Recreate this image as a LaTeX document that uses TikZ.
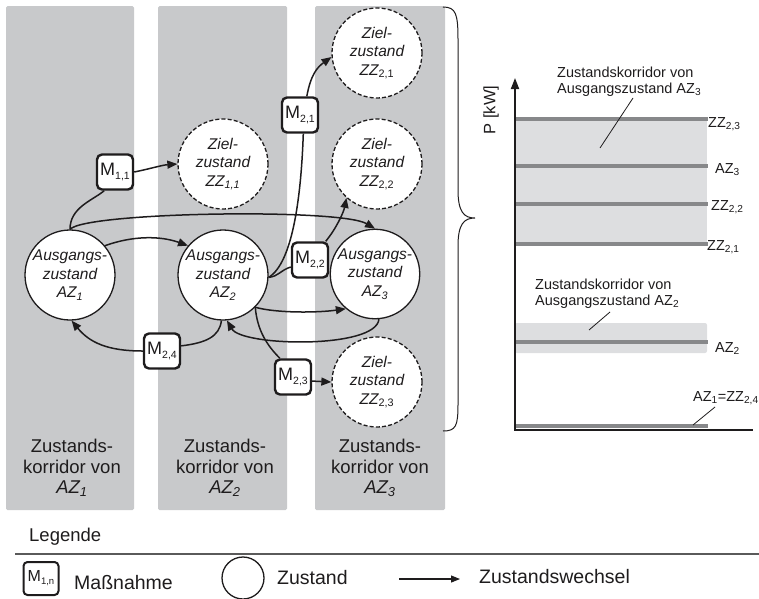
\documentclass[tikz,border=0pt]{standalone}
\usepackage{fontspec}
\setmainfont{Liberation Sans}
\usetikzlibrary{arrows.meta}
\definecolor{colgray}{RGB}{200,201,203}
\definecolor{corgray}{RGB}{221,222,224}
\definecolor{lvlgray}{RGB}{135,136,138}
\definecolor{leggray}{RGB}{90,90,90}
\definecolor{ink}{RGB}{30,28,29}
\newcommand\circfont{\fontsize{15.5}{18.5}\selectfont\itshape}
\newcommand\colfont{\fontsize{18.5}{20.5}\selectfont}
\newcommand\chfont{\fontsize{14.5}{16.5}\selectfont}
\newcommand\legfont{\fontsize{19.5}{22}\selectfont}
\newcommand\Mlab[1]{M\raisebox{-3.5pt}{\fontsize{10.5}{12}\selectfont #1}}
\begin{document}
\begin{tikzpicture}[x=1pt,y=-1pt, text=ink,
  colbox/.style={fill=colgray, draw=none, rounded corners=1.5pt},
  st/.style={circle, draw=ink, line width=1.3pt, fill=white, minimum size=90pt, inner sep=0pt, align=center, font=\circfont},
  zz/.style={st, dash pattern=on 4pt off 2.2pt},
  mm/.style={draw=ink, line width=2.4pt, rounded corners=5pt, fill=white, minimum width=36pt, minimum height=35pt, inner sep=0pt, font=\fontsize{18}{20}\selectfont},
  ln/.style={ink, line width=1.5pt},
  tr/.style={ink, line width=1.5pt, -{Triangle[length=10pt,width=8pt]}},
  lvl/.style={lvlgray, line width=3.2pt},
  chl/.style={anchor=base west, inner sep=0pt, font=\chfont},
  leg/.style={anchor=west, inner sep=0pt, font=\legfont}
]
\useasboundingbox (0,0) rectangle (759,598);

% corridors
\fill[colbox] (6,6) rectangle (134,510);
\fill[colbox] (158,6) rectangle (287,510);
\fill[colbox] (315,6) rectangle (445,510);

% state nodes
\node[st] (az1) at (70,275) {Ausgangs-\\zustand\\AZ\textsubscript{1}};
\node[st] (az2) at (223,275) {Ausgangs-\\zustand\\AZ\textsubscript{2}};
\node[st, minimum size=88pt] (az3) at (375,274) {Ausgangs-\\zustand\\AZ\textsubscript{3}};
\node[zz] (zz11) at (223,164) {Ziel-\\zustand\\ZZ\textsubscript{1,1}};
\node[zz] (zz21) at (377,53) {Ziel-\\zustand\\ZZ\textsubscript{\upshape 2,1}};
\node[zz] (zz22) at (377,164) {Ziel-\\zustand\\ZZ\textsubscript{\upshape 2,2}};
\node[zz] (zz23) at (377,382) {Ziel-\\zustand\\ZZ\textsubscript{\upshape 2,3}};

% measures
\node[mm] (m11) at (115,172) {\Mlab{1,1}};
\node[mm] (m21) at (300,115) {\Mlab{2,1}};
\node[mm] (m22) at (310,260) {\Mlab{2,2}};
\node[mm] (m23) at (293,377) {\Mlab{2,3}};
\node[mm] (m24) at (162,351) {\Mlab{2,4}};

% transitions
\draw[ln] (az1.north) .. controls +(0,-22) and +(-12,10) .. (m11.240);
\draw[tr] (m11.east) .. controls +(15,-3) and +(-15,1) .. (zz11.west);
\draw[tr] (az1.40) .. controls +(28,-10) and +(-28,-10) .. (az2.140);
\draw[tr] (az1.north) .. controls (85,212) and (340,208) .. (az3.north);
\draw[ln] (az2.-3) .. controls +(25,-15) and +(-2,58) .. (m21.-80);
\draw[tr] (m21.70) .. controls +(4,-22) and +(-14,10) .. (zz21.185);
\draw[ln] (az2.-3) .. controls +(10,-1) and +(-10,3) .. (m22.200);
\draw[tr] (m22.50) .. controls +(10,-12) and +(-3,15) .. (zz22.228);
\draw[tr] (az2.-45) .. controls +(22,6) and +(-28,4) .. (az3.230);
\draw[ln] (az2.-45) .. controls +(2,24) and +(-12,-12) .. (m23.125);
\draw[tr] (m23.-12) -- (zz23.west);
\draw[tr] (az3.-85) .. controls +(-3,30) and +(15,26) .. (az2.-85);
\draw[ln] (az2.-92) .. controls +(-2,16) and +(25,-3) .. (m24.15);
\draw[tr] (m24.west) .. controls +(-35,0) and +(18,22) .. (az1.-88);

% corridor labels
\node[font=\colfont, align=center] (t1) at (72,468) {Zustands-\\korridor von\\\textit{AZ\textsubscript{1}}};
\node[font=\colfont, align=center] (t2) at (225,468) {Zustands-\\korridor von\\\textit{AZ\textsubscript{2}}};
\node[font=\colfont, align=center] (t3) at (380,468) {Zustands-\\korridor von\\\textit{AZ\textsubscript{3}}};

% brace
\draw[ink, line width=1pt] (443,7) .. controls (456,7) and (458,14) .. (458,40) -- (458,190)
  .. controls (458,212) and (464,218) .. (475,218)
  .. controls (464,218) and (458,224) .. (458,246) -- (458,404)
  .. controls (458,426) and (456,431) .. (443,431);

% chart
\fill[corgray] (515,119) rectangle (707,244);
\fill[corgray, rounded corners=2pt] (515,323) rectangle (707,353);
\foreach \yy in {119,166,204,244,342,426} \draw[lvl] (515,\yy) -- (708,\yy);
\coordinate (o) at (515,430);
\coordinate (ytop) at (515,78);
\coordinate (xend) at (753,430);
\draw[ink, line width=1.8pt, -{Triangle[length=11pt,width=8pt]}] (o) -- (ytop);
\draw[ink, line width=1.8pt] ([xshift=-0.9pt]o) -- (xend);
\node[rotate=90, font=\fontsize{16.5}{18}\selectfont] (plab) at (491,110) {P [kW]};

\node[chl] (l1) at (708,127) {ZZ\textsubscript{2,3}};
\node[chl] (l2) at (715,173) {AZ\textsubscript{3}};
\node[chl] (l3) at (711,210) {ZZ\textsubscript{2,2}};
\node[chl] (l4) at (707,250) {ZZ\textsubscript{2,1}};
\node[chl] (l5) at (715,352) {AZ\textsubscript{2}};
\node[chl] (l6) at (693,401) {AZ\textsubscript{1}=ZZ\textsubscript{2,4}};

\node[anchor=north west, align=left, inner sep=0pt, font=\chfont] (k3) at (557,66.5) {Zustandskorridor von\\Ausgangszustand AZ\textsubscript{3}};
\node[anchor=north west, align=left, inner sep=0pt, font=\chfont] (k2) at (535,278.5) {Zustandskorridor von\\Ausgangszustand AZ\textsubscript{2}};
\coordinate (p3a) at (633,98); \coordinate (p3b) at (600,148);
\coordinate (p2a) at (610,312); \coordinate (p2b) at (589,330);
\coordinate (p1a) at (715,407); \coordinate (p1b) at (693,425);
\draw[ink, line width=0.8pt] (p3a) -- (p3b);
\draw[ink, line width=0.8pt] (p2a) -- (p2b);
\draw[ink, line width=0.8pt] (p1a) -- (p1b);

% legend
\node[anchor=west, inner sep=0pt, font=\fontsize{18.5}{20}\selectfont] (legt) at (29,537) {Legende};
\coordinate (lla) at (15,554); \coordinate (llb) at (759,554);
\draw[leggray, line width=1.5pt] (lla) -- (llb);
\node[draw=ink, line width=2pt, rounded corners=4pt, minimum width=35pt, minimum height=33pt, inner sep=0pt, font=\fontsize{16}{18}\selectfont] (lm) at (41,578.5) {M\raisebox{-3pt}{\fontsize{9.5}{10}\selectfont 1,n}};
\node[leg] (lmt) at (74,583) {Maßnahme};
\node[circle, draw=ink, line width=1.3pt, minimum size=42pt, inner sep=0pt] (lz) at (243,578) {};
\node[leg] (lzt) at (277,578) {Zustand};
\coordinate (la1) at (399,579); \coordinate (la2) at (460,579);
\draw[ink, line width=1.2pt, -{Triangle[length=9pt,width=7pt]}] (la1) -- (la2);
\node[leg] (lwt) at (479,577) {Zustandswechsel};
\end{tikzpicture}
\end{document}
